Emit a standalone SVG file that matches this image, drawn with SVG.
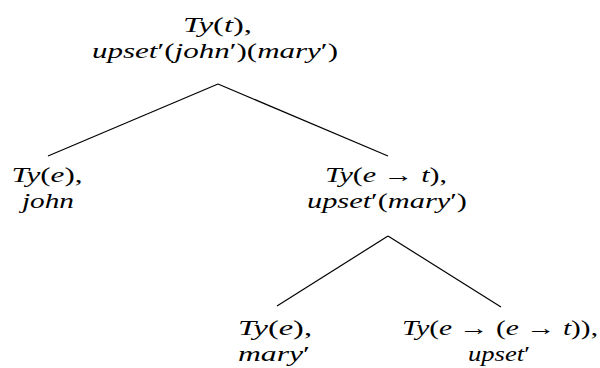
<svg xmlns="http://www.w3.org/2000/svg" width="600" height="368" viewBox="0 0 600 368">
<style>
text{font-family:"Liberation Serif","DejaVu Serif",serif;font-size:22px;font-style:italic;fill:#000;text-anchor:middle}
.u{font-style:normal}
.e{stroke:#000;stroke-width:1.2;fill:none}
</style>
<rect width="600" height="368" fill="#fff"/>
<g id="edges">
<line class="e" x1="218" y1="84" x2="48" y2="156"/>
<line class="e" x1="218" y1="84" x2="388" y2="156"/>
<line class="e" x1="388" y1="236" x2="277" y2="306"/>
<line class="e" x1="388" y1="236" x2="501" y2="307"/>
</g>
<g id="root">
<text x="217.5" y="32" textLength="69" lengthAdjust="spacingAndGlyphs">Ty<tspan class="u">(</tspan>t<tspan class="u">),</tspan></text>
<text x="215" y="58" textLength="246" lengthAdjust="spacingAndGlyphs">upset<tspan class="u">′(</tspan>john<tspan class="u">′)(</tspan>mary<tspan class="u">′)</tspan></text>
</g>
<g id="john">
<text x="47" y="182" textLength="71" lengthAdjust="spacingAndGlyphs">Ty<tspan class="u">(</tspan>e<tspan class="u">),</tspan></text>
<text x="48" y="208" textLength="52" lengthAdjust="spacingAndGlyphs">john</text>
</g>
<g id="upsetmary">
<text x="386" y="182" textLength="122" lengthAdjust="spacingAndGlyphs">Ty<tspan class="u">(</tspan>e<tspan class="u"> → </tspan>t<tspan class="u">),</tspan></text>
<text x="387" y="208" textLength="160" lengthAdjust="spacingAndGlyphs">upset<tspan class="u">′(</tspan>mary<tspan class="u">′)</tspan></text>
</g>
<g id="mary">
<text x="275" y="335" textLength="74" lengthAdjust="spacingAndGlyphs">Ty<tspan class="u">(</tspan>e<tspan class="u">),</tspan></text>
<text x="274" y="361" textLength="72" lengthAdjust="spacingAndGlyphs">mary<tspan class="u">′</tspan></text>
</g>
<g id="upset">
<text x="500" y="335" textLength="196" lengthAdjust="spacingAndGlyphs">Ty<tspan class="u">(</tspan>e<tspan class="u"> → (</tspan>e<tspan class="u"> → </tspan>t<tspan class="u">)),</tspan></text>
<text x="499" y="361" textLength="62" lengthAdjust="spacingAndGlyphs">upset<tspan class="u">′</tspan></text>
</g>
</svg>
